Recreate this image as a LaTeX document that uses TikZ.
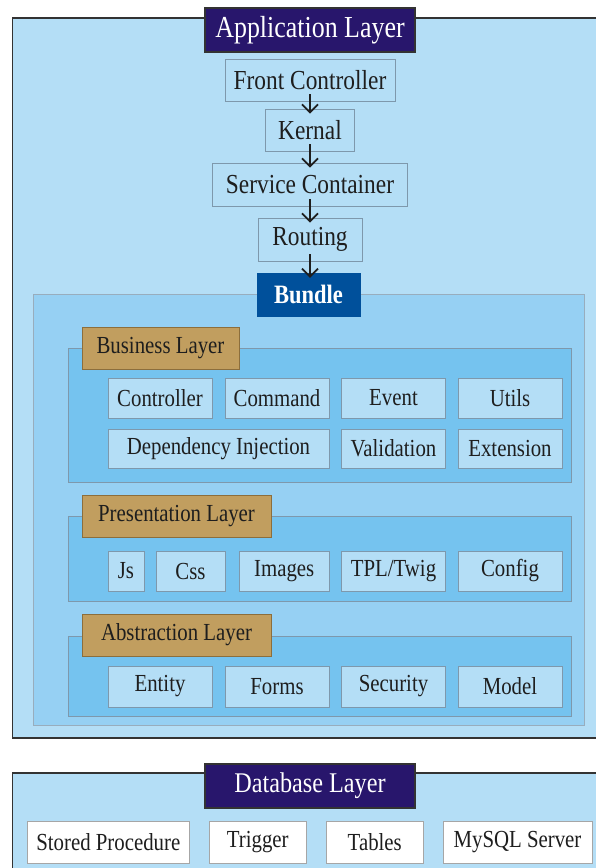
\documentclass[tikz,border=0pt]{standalone}
\usepackage{fontspec}
\setmainfont{Liberation Serif}[FakeStretch=0.85]
\usetikzlibrary{arrows.meta}
\definecolor{outerfill}{HTML}{B4DEF6}
\definecolor{bundlefill}{HTML}{96D0F3}
\definecolor{layerfill}{HTML}{75C3EF}
\definecolor{itemline}{HTML}{7E98AC}
\definecolor{titlefill}{HTML}{28166C}
\definecolor{bundlebox}{HTML}{00509B}
\definecolor{tanfill}{HTML}{C19E5F}
\definecolor{tanline}{HTML}{8C6E3C}
\definecolor{darkline}{HTML}{333333}
\definecolor{txt}{HTML}{1E1E1E}
\tikzset{
  box/.style={draw=itemline, line width=0.8pt, inner sep=0pt, text=txt,
    font=\fontsize{24.5}{26}\selectfont},
  itembox/.style={box, fill=outerfill},
  flowbox/.style={box, fill=outerfill, font=\fontsize{27.5}{29}\selectfont},
  dbitem/.style={box, fill=white, draw=gray!70},
  titlebox/.style={draw=darkline, line width=1.6pt, fill=titlefill, text=white, inner sep=0pt},
  layerlabel/.style={draw=tanline, line width=0.8pt, fill=tanfill, text=txt, inner sep=0pt,
    font=\fontsize{24.5}{26}\selectfont},
  container/.style={inner sep=0pt},
  flow/.style={-{Straight Barb[length=8pt,width=16pt,line width=1.8pt]}, line width=1.8pt, txt,
    shorten <=-7pt, shorten >=-5pt},
}
\begin{document}
\begin{tikzpicture}[x=1pt,y=-1pt]
\useasboundingbox (0,0) rectangle (595,868);
\fill[white] (0,0) rectangle (595,868);
% application layer outer
\node[container, draw=darkline, line width=1.6pt, fill=outerfill, minimum width=592.5pt, minimum height=720pt] (app) at (308.75,378) {};
\node[titlebox, minimum width=210pt, minimum height=44pt, font=\fontsize{30.5}{32}\selectfont] (apptitle) at (310,30) {Application Layer};
\node[flowbox, minimum width=170pt, minimum height=42pt] (fc) at (310,80) {Front Controller};
\node[flowbox, minimum width=89pt, minimum height=42pt] (kernal) at (310,130) {Kernal};
\node[flowbox, minimum width=194.5pt, minimum height=43pt] (sc) at (310,184.5) {Service Container};
\node[flowbox, minimum width=104pt, minimum height=43pt] (routing) at (310,239.5) {Routing};
% bundle container
\node[container, draw=itemline!80, line width=0.8pt, fill=bundlefill, minimum width=551pt, minimum height=431pt] (bundlec) at (308.5,509.5) {};
\node[draw=bundlebox, fill=bundlebox, text=white, inner sep=0pt, minimum width=103pt, minimum height=43pt, font=\fontsize{26.5}{28}\selectfont\bfseries] (bundle) at (308.5,294.5) {Bundle};
\draw[flow] (fc.south) -- (kernal.north);
\draw[flow] (kernal.south) -- (sc.north);
\draw[flow] (sc.south) -- (routing.north);
\draw[flow] (routing.south) -- (routing.south |- bundle.north);
% business layer
\node[container, draw=itemline, line width=0.8pt, fill=layerfill, minimum width=503.5pt, minimum height=134pt] (busc) at (319.75,415) {};
\node[layerlabel, minimum width=157pt, minimum height=42pt] (busl) at (160.5,348) {Business Layer};
\node[itembox, minimum width=104pt, minimum height=40pt] (controller) at (160,398) {Controller};
\node[itembox, minimum width=104pt, minimum height=40pt] (command) at (277,398) {Command};
\node[itembox, minimum width=104pt, minimum height=40pt] (event) at (393.5,398) {Event};
\node[itembox, minimum width=104pt, minimum height=40pt] (utils) at (510,398) {Utils};
\node[itembox, minimum width=221pt, minimum height=39pt] (di) at (218.5,448.5) {Dependency Injection};
\node[itembox, minimum width=104pt, minimum height=39pt] (validation) at (393.5,448.5) {Validation};
\node[itembox, minimum width=104pt, minimum height=39pt] (extension) at (510,448.5) {Extension};
% presentation layer
\node[container, draw=itemline, line width=0.8pt, fill=layerfill, minimum width=503.5pt, minimum height=85pt] (prec) at (319.75,558.5) {};
\node[layerlabel, minimum width=189pt, minimum height=42pt] (prel) at (176.5,516) {Presentation Layer};
\node[itembox, minimum width=36pt, minimum height=40pt] (js) at (126,571) {Js};
\node[itembox, minimum width=69pt, minimum height=40pt] (css) at (190.5,571) {Css};
\node[itembox, minimum width=89.5pt, minimum height=40pt] (images) at (284.25,571) {Images};
\node[itembox, minimum width=104pt, minimum height=40pt] (tpl) at (393.5,571) {TPL/Twig};
\node[itembox, minimum width=104pt, minimum height=40pt] (config) at (510,571) {Config};
% abstraction layer
\node[container, draw=itemline, line width=0.8pt, fill=layerfill, minimum width=503.5pt, minimum height=80pt] (absc) at (319.75,676) {};
\node[layerlabel, minimum width=189pt, minimum height=42pt] (absl) at (176.5,635) {Abstraction Layer};
\node[itembox, minimum width=104pt, minimum height=41pt] (entity) at (160,686.5) {Entity};
\node[itembox, minimum width=104pt, minimum height=41pt] (forms) at (277,686.5) {Forms};
\node[itembox, minimum width=104pt, minimum height=41pt] (security) at (393.5,686.5) {Security};
\node[itembox, minimum width=104pt, minimum height=41pt] (model) at (510,686.5) {Model};
% database layer
\node[container, draw=darkline, line width=1.6pt, fill=outerfill, minimum width=592.5pt, minimum height=107pt] (db) at (308.75,826.5) {};
\node[titlebox, minimum width=210pt, minimum height=44pt, font=\fontsize{28.5}{30}\selectfont] (dbtitle) at (310,786) {Database Layer};
\node[dbitem, minimum width=161.3pt, minimum height=42pt] (sp) at (108.35,842) {Stored Procedure};
\node[dbitem, minimum width=96.5pt, minimum height=42pt] (trigger) at (257.75,842) {Trigger};
\node[dbitem, minimum width=97.5pt, minimum height=42pt] (tables) at (374.75,842) {Tables};
\node[dbitem, minimum width=149pt, minimum height=42pt] (mysql) at (517.5,842) {MySQL Server};
\end{tikzpicture}
\end{document}
